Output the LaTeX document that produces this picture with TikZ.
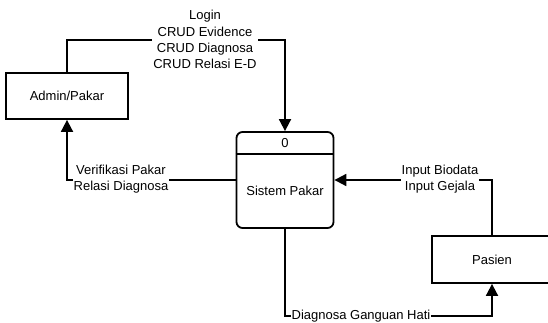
\documentclass[tikz,border=0pt]{standalone}
\usepackage{fontspec}
\setmainfont{Liberation Sans}
\usetikzlibrary{arrows.meta}
\begin{document}
\begin{tikzpicture}[x=1pt,y=-1pt,
  font=\fontsize{13}{16.2}\selectfont,
  box/.style={draw, line width=1.8pt, inner sep=0pt},
  flow/.style={line width=1.8pt, -{Triangle[length=12pt,width=12pt]}},
  lbl/.style={fill=white, inner sep=1pt, align=center}]
\clip (0,0) rectangle (548,323);
\fill[white] (0,0) rectangle (548,323);

% external entities and the process
\node[box, minimum width=122pt, minimum height=46pt] (admin) at (67,96) {Admin/Pakar};
\node[box, rounded corners=6pt, minimum width=97pt, minimum height=96pt] (sys) at (285,180) {};
\node[box, minimum width=120pt, minimum height=47pt] (pasien) at (492,259.5) {Pasien};
\draw[line width=1.8pt] (sys.west |- 0,154) -- (sys.east |- 0,154);
\node (sysid) at (285,143) {0};
\node (systitle) at (285,191) {Sistem Pakar};

% data flows
\coordinate (a1) at (67,40);
\coordinate (a2) at (285,40);
\draw[flow] (admin.north) -- (a1) -- (a2) -- (sys.north);
\coordinate (b1) at (67,180);
\draw[flow] (sys.west) -- (b1) -- (admin.south);
\coordinate (c1) at (492,180);
\draw[flow] (pasien.north) -- (c1) -- (sys.east);
\coordinate (d1) at (285,316);
\coordinate (d2) at (492,316);
\draw[flow] (sys.south) -- (d1) -- (d2) -- (pasien.south);

% flow labels
\node[lbl] (l1) at (205,39.5) {Login\\CRUD Evidence\\CRUD Diagnosa\\CRUD Relasi E-D};
\node[lbl] (l2) at (121,179.5) {Verifikasi Pakar\\Relasi Diagnosa};
\node[lbl] (l3) at (440,179.5) {Input Biodata\\Input Gejala};
\node[lbl, inner sep=0.5pt] (l4) at (361,316) {Diagnosa Ganguan Hati};
\end{tikzpicture}
\end{document}
